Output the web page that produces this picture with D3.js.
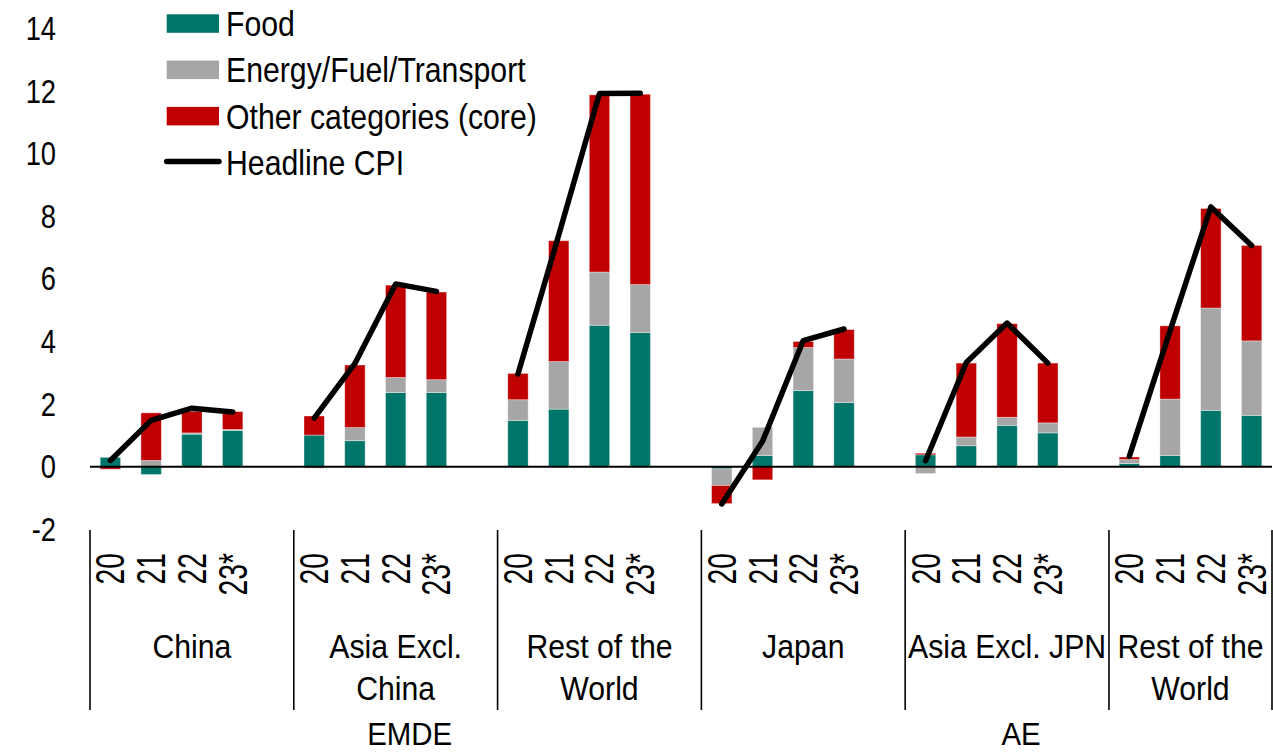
<!DOCTYPE html>
<html>
<head>
<meta charset="utf-8">
<script src="https://cdn.jsdelivr.net/npm/d3@7"></script>
<style>
  html, body { margin: 0; padding: 0; background: #fff; }
  svg { display: block; }
  text { font-family: "Liberation Sans", Arial, sans-serif; fill: #000; }
</style>
</head>
<body>
<svg id="chart" width="1273" height="752"></svg>
<script>
// Country groups (two-level category axis: region > economy > year)
const groupLines = [["China"], ["Asia Excl.", "China"], ["Rest of the", "World"],
                    ["Japan"], ["Asia Excl. JPN"], ["Rest of the", "World"]];
const regions = ["EMDE", "AE"];
const groupRegion = [0, 0, 0, 1, 1, 1];
const years = ["20", "21", "22", "23*"];

// Contributions to CPI inflation, percentage points (4 years per group, in group order)
const food = [0.30, -0.25, 1.04, 1.16,   1.01, 0.83, 2.37, 2.37,   1.48, 1.84, 4.52, 4.29,
              -0.07, 0.36, 2.43, 2.05,   0.38, 0.67, 1.32, 1.08,   0.10, 0.36, 1.80, 1.64];
const energy = [0.00, 0.20, 0.04, 0.03,  -0.05, 0.42, 0.48, 0.41,  0.66, 1.52, 1.70, 1.53,
                -0.53, 0.90, 1.38, 1.39, -0.22, 0.28, 0.26, 0.32,  0.13, 1.80, 3.27, 2.38];
const other = [-0.08, 1.52, 0.69, 0.57,  0.61, 2.00, 2.95, 2.80,   0.84, 3.86, 5.66, 6.08,
               -0.58, -0.42, 0.19, 0.94, 0.05, 2.36, 2.99, 1.91,   0.08, 2.34, 3.18, 3.05];
const headline = [0.20, 1.48, 1.87, 1.75, 1.55, 3.30, 5.84, 5.60,  2.96, 7.40, 11.92, 11.93,
                  -1.19, 0.81, 4.03, 4.40, 0.19, 3.33, 4.59, 3.31, 0.33, 4.35, 8.30, 7.07];

const yTicks = [-2, 0, 2, 4, 6, 8, 10, 12, 14];

const seriesNames = ["Food", "Energy/Fuel/Transport", "Other categories (core)"];
const seriesKeys = ["food", "energy", "other"];
const colors = { food: "#00766A", energy: "#A6A6A6", other: "#C00000" };

// ---- rows ----
const rows = [];
groupLines.forEach((g, gi) => {
  years.forEach((yr, yi) => {
    const i = gi * years.length + yi;
    rows.push({ key: gi + "|" + yr, group: gi, year: yr,
                food: food[i], energy: energy[i], other: other[i], headline: headline[i] });
  });
});

// category slots: each group gets a blank slot after it except the last one
const slotKeys = [];
groupLines.forEach((g, gi) => {
  years.forEach(yr => slotKeys.push(gi + "|" + yr));
  if (gi < groupLines.length - 1) slotKeys.push(gi + "|gap");
});

const plotLeft = 90, plotRight = 1272;
const x = d3.scaleBand().domain(slotKeys).range([plotLeft, plotRight])
  .paddingInner(0.5).paddingOuter(0.25);
const y = d3.scaleLinear().domain([-2, 14]).range([529.3, 28.5]);

const svg = d3.select("#chart");

// compressed-width text helper
function label(parent, txt, px, py, size, sx, anchor, rot) {
  const t = parent.append("text")
    .attr("transform", `translate(${px},${py})` + (rot ? ` rotate(${rot})` : "") + ` scale(${sx},1)`)
    .attr("font-size", size)
    .attr("text-anchor", anchor)
    .text(txt);
  return t;
}

// ---- y tick labels (no axis line), plain hyphen for negatives ----
const yAxisG = svg.append("g");
yTicks.forEach(v => {
  label(yAxisG, String(v), 56, y(v) + 11.5, 32.5, 0.84, "end");
});

// ---- stacked bars ----
const stack = d3.stack().keys(seriesKeys).offset(d3.stackOffsetDiverging);
const stacked = stack(rows);

const barsG = svg.append("g");
stacked.forEach(layer => {
  barsG.append("g")
    .attr("fill", colors[layer.key])
    .selectAll("rect")
    .data(layer)
    .join("rect")
    .attr("x", d => x(d.data.key))
    .attr("width", x.bandwidth())
    .attr("y", d => y(Math.max(d[0], d[1])))
    .attr("height", d => Math.abs(y(d[0]) - y(d[1])))
    .attr("stroke", "rgba(255,255,255,0.45)")
    .attr("stroke-width", 0.8);
});

// ---- zero line ----
svg.append("line")
  .attr("x1", plotLeft).attr("x2", plotRight)
  .attr("y1", y(0)).attr("y2", y(0))
  .attr("stroke", "#000").attr("stroke-width", 2);

// ---- headline CPI line, one segment per group ----
const line = d3.line()
  .x(d => x(d.key) + x.bandwidth() / 2)
  .y(d => y(d.headline));
const lineG = svg.append("g");
d3.groups(rows, d => d.group).forEach(([g, pts]) => {
  lineG.append("path")
    .attr("d", line(pts))
    .attr("fill", "none")
    .attr("stroke", "#000")
    .attr("stroke-width", 5.5)
    .attr("stroke-linecap", "round")
    .attr("stroke-linejoin", "round");
});

// ---- category axis ----
const axisG = svg.append("g");
const step = x.step();
const groupStart = gi => x(gi + "|" + years[0]) - step * 0.25;
const groupEnd = gi => gi < groupLines.length - 1 ? groupStart(gi + 1) : plotRight;

// separators
const sepXs = groupLines.map((g, gi) => groupStart(gi)).concat([plotRight]);
axisG.selectAll("line.sep").data(sepXs).join("line")
  .attr("class", "sep")
  .attr("x1", d => d).attr("x2", d => d)
  .attr("y1", 530).attr("y2", 710)
  .attr("stroke", "#000").attr("stroke-width", 1.6);

// year labels (rotated)
rows.forEach(r => {
  const cx = x(r.key) + x.bandwidth() / 2;
  label(axisG, r.year, cx + 14, 553, 41, 0.69, "end", -90);
});

// group labels
groupLines.forEach((lines, gi) => {
  const cx = (groupStart(gi) + groupEnd(gi)) / 2;
  lines.forEach((ln, li) => {
    label(axisG, ln, cx, 658 + li * 42, 32.5, 0.93, "middle");
  });
});

// region labels
regions.forEach((rg, ri) => {
  const members = groupLines.map((g, gi) => gi).filter(gi => groupRegion[gi] === ri);
  const s = groupStart(members[0]);
  const e = groupStart(members[members.length - 1]) + step * 5;
  label(axisG, rg, (s + e) / 2 + 14, 745, 32, 0.92, "middle");
});

// ---- legend ----
const legendG = svg.append("g");
const legX = 166.7, legTextX = 226, legRow0 = 23.5, legStep = 46.3;
seriesKeys.forEach((k, i) => {
  const cy = legRow0 + i * legStep;
  legendG.append("rect")
    .attr("x", legX).attr("y", cy - 9.2)
    .attr("width", 52.3).attr("height", 18.5)
    .attr("fill", colors[k]);
  label(legendG, seriesNames[i], legTextX, cy + 12.5, 36, 0.84, "start");
});
{
  const cy = legRow0 + 3 * legStep;
  legendG.append("line")
    .attr("x1", legX).attr("x2", legX + 52.3)
    .attr("y1", cy - 1).attr("y2", cy - 1)
    .attr("stroke", "#000").attr("stroke-width", 5.5)
    .attr("stroke-linecap", "round");
  label(legendG, "Headline CPI", legTextX, cy + 12.5, 36, 0.84, "start");
}
</script>
</body>
</html>
